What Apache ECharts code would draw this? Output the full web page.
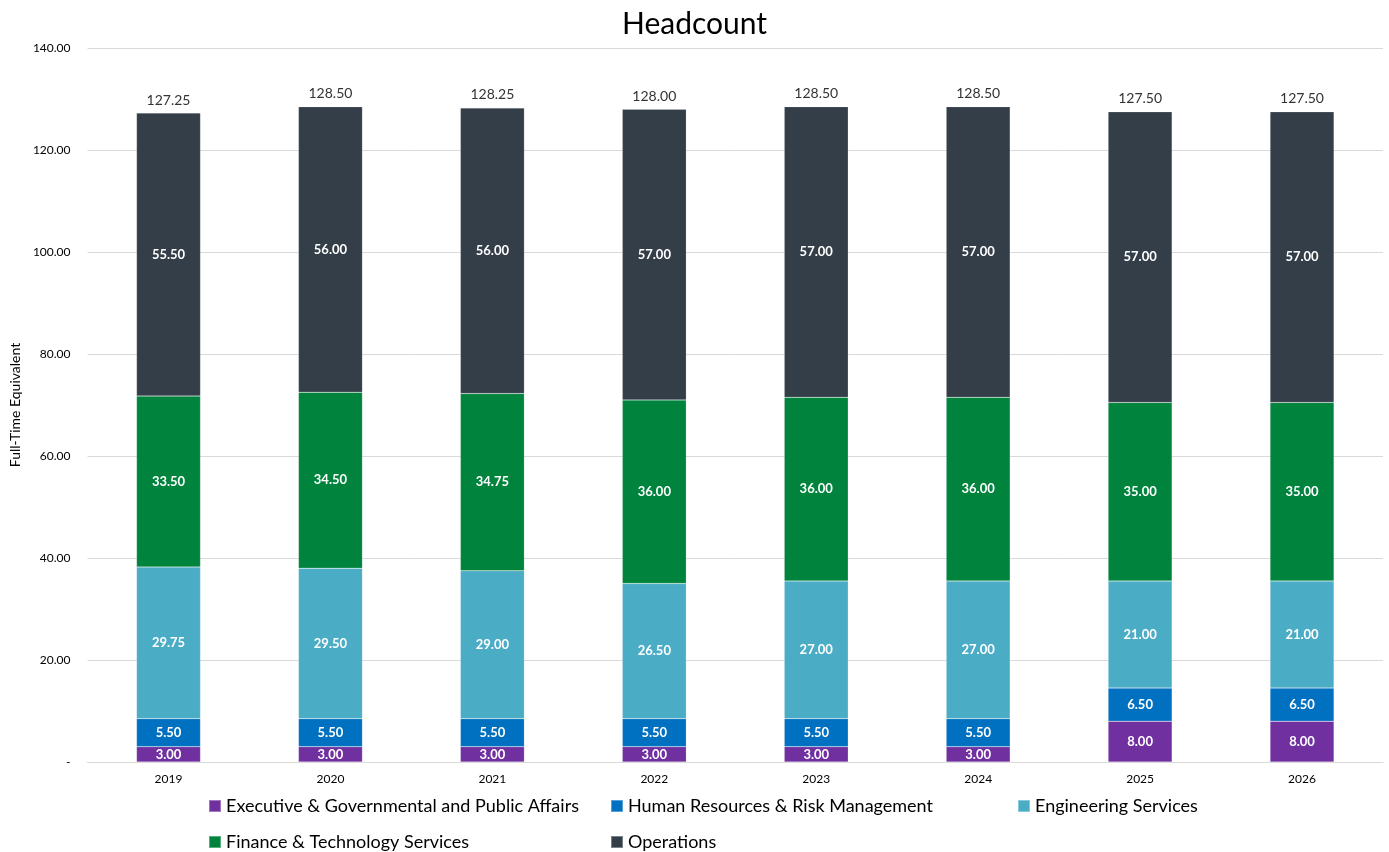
<!DOCTYPE html>
<html><head><meta charset="utf-8">
<script src="https://cdn.jsdelivr.net/npm/echarts@6/dist/echarts.min.js"></script>
<style>html,body{margin:0;padding:0;background:#fff}#c{width:1389px;height:852px}</style>
</head><body><div id="c"></div>
<script>
const years = ['2019','2020','2021','2022','2023','2024','2025','2026'];
const seriesNames = ['Executive & Governmental and Public Affairs','Human Resources & Risk Management','Engineering Services','Finance & Technology Services','Operations'];
const executive = [3.00,3.00,3.00,3.00,3.00,3.00,8.00,8.00];
const humanResources = [5.50,5.50,5.50,5.50,5.50,5.50,6.50,6.50];
const engineering = [29.75,29.50,29.00,26.50,27.00,27.00,21.00,21.00];
const finance = [33.50,34.50,34.75,36.00,36.00,36.00,35.00,35.00];
const operations = [55.50,56.00,56.00,57.00,57.00,57.00,57.00,57.00];
const totals = [127.25,128.50,128.25,128.00,128.50,128.50,127.50,127.50];
const yTicks = [0,20,40,60,80,100,120,140];
const colors = ['#7030A0','#0070C0','#4BACC6','#00843D','#343E48'];
const FONT = 'Lato';

const values = [executive, humanResources, engineering, finance, operations];
const series = values.map((d,i)=>({
  name: seriesNames[i], type:'bar', stack:'s', data:d, barWidth:64,
  itemStyle:{color:colors[i], borderColor:'rgba(255,255,255,0.35)', borderWidth:0.5},
  label:{show:true, position:'inside', color:'#fff', fontWeight:'bold', fontSize:13, fontFamily:FONT,
    formatter:p=>p.value.toFixed(2)}
}));
series.push({
  name:'Total', type:'bar', stack:'s', data:totals.map(()=>0), barWidth:64,
  itemStyle:{color:'transparent'}, silent:true,
  label:{show:true, position:'top', distance:6, color:'#333', fontSize:14, fontFamily:FONT,
    formatter:p=>totals[p.dataIndex].toFixed(2)}
});

const legendCols = [203, 605, 1012];
const legends = seriesNames.map((n,i)=>({
  data:[n], left: legendCols[i%3], top: i<3 ? 792 : 828, itemWidth:12, itemHeight:12, itemGap:5,
  icon:'rect', textStyle:{fontSize:18, color:'#000', fontFamily:FONT}, selectedMode:false
}));

const chart = echarts.init(document.getElementById('c'));
chart.setOption({
  animation:false,
  color: colors,
  title:{text:'Headcount', left:'center', top:4, textStyle:{fontSize:30, fontWeight:'normal', color:'#000', fontFamily:FONT}},
  legend: legends,
  grid:{left:86, right:6, top:48, bottom:90, containLabel:false},
  xAxis:{type:'category', data:years,
    axisLine:{lineStyle:{color:'#D9D9D9', width:1}}, axisTick:{show:false},
    axisLabel:{color:'#000', fontSize:12, fontFamily:FONT, margin:11}},
  yAxis:{type:'value', min:0, max:140, interval:20,
    name:'Full-Time Equivalent', nameLocation:'middle', nameGap:62, nameRotate:90,
    nameTextStyle:{fontSize:14, color:'#000', fontFamily:FONT},
    axisLine:{show:false}, axisTick:{show:false},
    splitLine:{lineStyle:{color:'#D9D9D9'}},
    axisLabel:{color:'#000', fontSize:12, fontFamily:FONT, margin:17,
      formatter:v=> yTicks.includes(v) ? (v===0?'-':v.toFixed(2)) : ''}},
  series: series
});
</script></body></html>
